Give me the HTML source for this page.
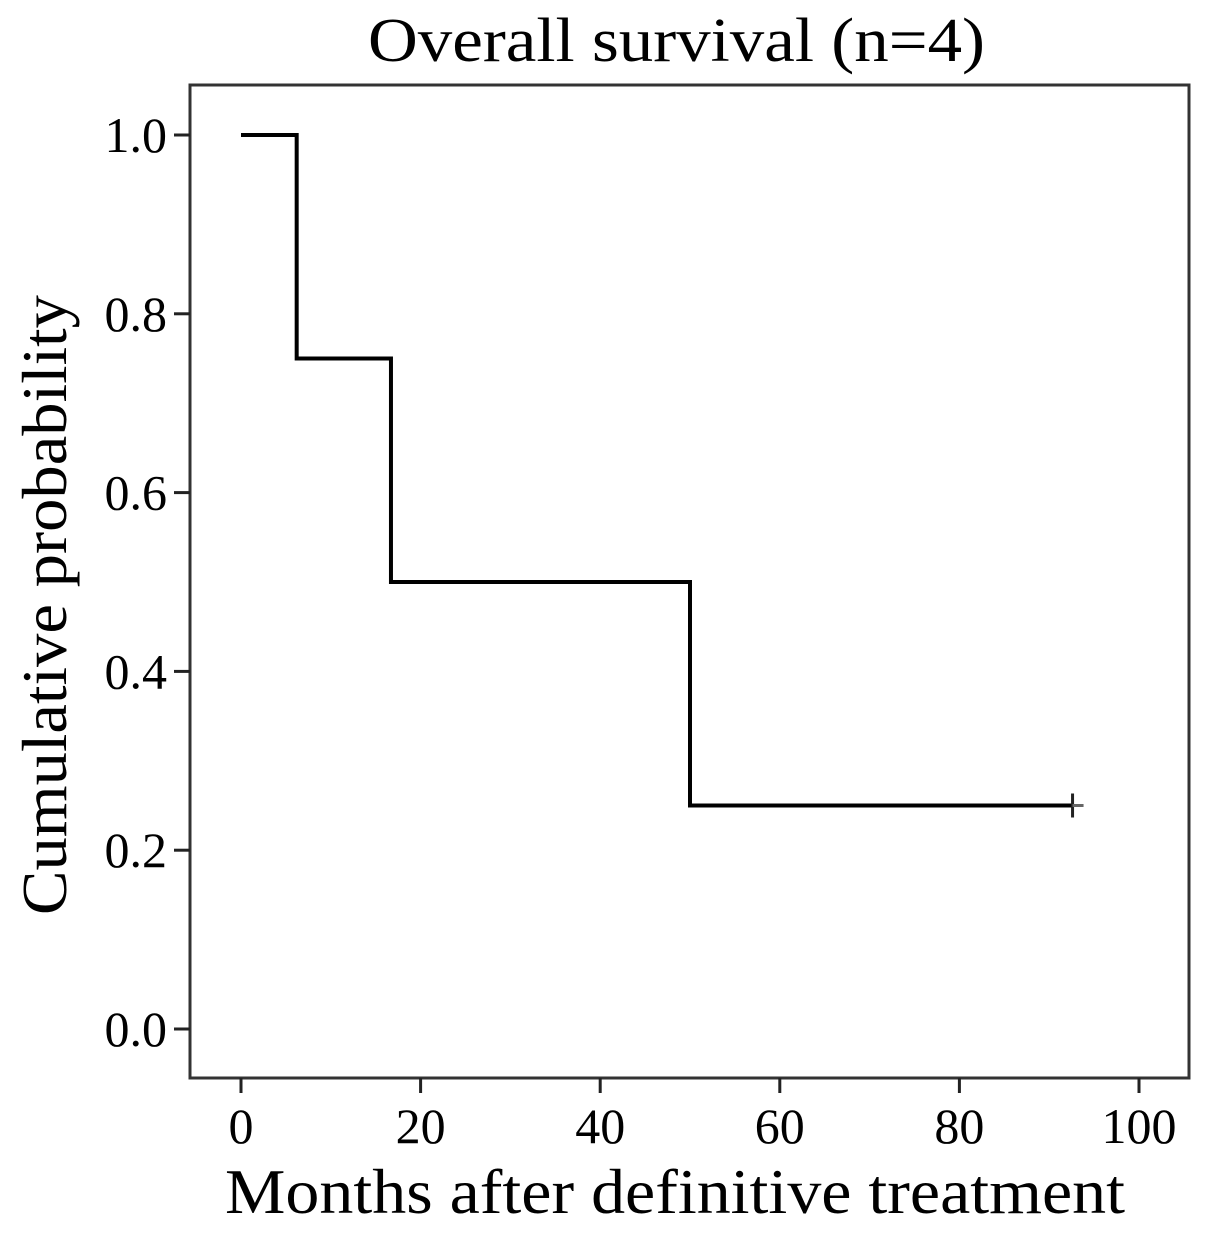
<!DOCTYPE html>
<html><head><meta charset="utf-8"><style>
body{margin:0;background:#fff}
svg text{font-family:"Liberation Serif",serif;fill:#000}
</style></head><body>
<svg id="chart" width="1205" height="1230" viewBox="0 0 1205 1230" xmlns="http://www.w3.org/2000/svg">
<text x="368" y="61" font-size="62" textLength="617" lengthAdjust="spacingAndGlyphs">Overall  survival  (n=4)</text>
<rect x="190" y="85" width="999" height="993" fill="none" stroke="#333" stroke-width="3"/>
<g id="axes"></g>
<path id="curve" fill="none" stroke="#000" stroke-width="4"/>
<g id="censor"></g>
<text x="225" y="1213" font-size="63" textLength="900" lengthAdjust="spacingAndGlyphs">Months after definitive treatment</text>
<text transform="translate(66,915) rotate(-90)" font-size="63" textLength="620" lengthAdjust="spacingAndGlyphs">Cumulative probability</text>
</svg>
<script>
const xTicks=[0,20,40,60,80,100];
const yTicks=[0.0,0.2,0.4,0.6,0.8,1.0];
const yTickLabels=["0.0","0.2","0.4","0.6","0.8","1.0"];
const eventTimes=[0,6.2,16.7,50.0];
const survival=[1.0,0.75,0.5,0.25];
const censorTimes=[92.6];
const censorSurv=[0.25];
function sx(v){return 241+v*8.98;}
function sy(v){return 1029-v*894;}
const NS="http://www.w3.org/2000/svg";
const axes=document.getElementById('axes');
xTicks.forEach(t=>{
  const l=document.createElementNS(NS,'line');
  
  
  l.setAttribute('x1',sx(t));l.setAttribute('x2',sx(t));l.setAttribute('y1',1078);l.setAttribute('y2',1093);
  l.setAttribute('stroke','#222');l.setAttribute('stroke-width',3);axes.appendChild(l);
  const tx=document.createElementNS(NS,'text');
  
  
  tx.setAttribute('x',sx(t));tx.setAttribute('y',1143);tx.setAttribute('font-size',50);tx.setAttribute('text-anchor','middle');
  tx.textContent=t;axes.appendChild(tx);
});
yTicks.forEach((t,i)=>{
  const l=document.createElementNS(NS,'line');
  
  
  l.setAttribute('x1',174);l.setAttribute('x2',190);l.setAttribute('y1',sy(t));l.setAttribute('y2',sy(t));
  l.setAttribute('stroke','#222');l.setAttribute('stroke-width',3);axes.appendChild(l);
  const tx=document.createElementNS(NS,'text');
  
  
  tx.setAttribute('x',167);tx.setAttribute('y',sy(t)+17);tx.setAttribute('font-size',50);tx.setAttribute('text-anchor','end');
  tx.textContent=yTickLabels[i];axes.appendChild(tx);
});
let d='M'+sx(eventTimes[0])+','+sy(survival[0]);
for(let i=1;i<eventTimes.length;i++){
  d+=' H'+sx(eventTimes[i])+' V'+sy(survival[i]);
}
d+=' H'+sx(censorTimes[censorTimes.length-1]);
document.getElementById('curve').setAttribute('d',d);
const cg=document.getElementById('censor');
censorTimes.forEach((t,i)=>{
  const a=document.createElementNS(NS,'line');
  
  
  a.setAttribute('x1',sx(t));a.setAttribute('x2',sx(t));a.setAttribute('y1',sy(censorSurv[i])-12);a.setAttribute('y2',sy(censorSurv[i])+12);
  a.setAttribute('stroke','#222');a.setAttribute('stroke-width',3);cg.appendChild(a);
  const b=document.createElementNS(NS,'line');
  
  
  b.setAttribute('x1',sx(t));b.setAttribute('x2',sx(t)+11);b.setAttribute('y1',sy(censorSurv[i]));b.setAttribute('y2',sy(censorSurv[i]));
  b.setAttribute('stroke','#666');b.setAttribute('stroke-width',3);cg.appendChild(b);
});
</script>
</body></html>
